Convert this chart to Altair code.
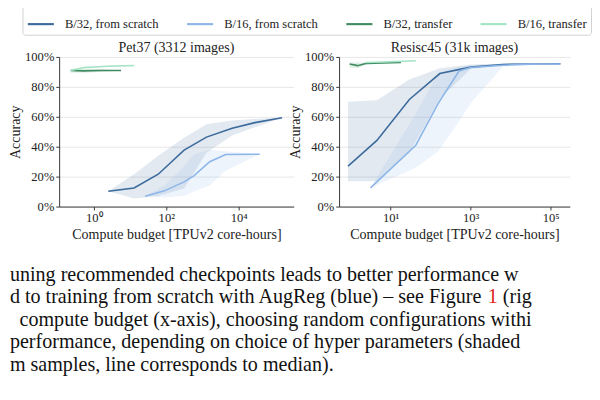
import altair as alt
import pandas as pd

SERIF = "Liberation Serif"
SERIES = ["B/32, from scratch", "B/16, from scratch", "B/32, transfer", "B/16, transfer"]
COLORS = ["#3b6a9c", "#8db6e8", "#3f8c60", "#a3e4c5"]
TITLES = ["Pet37 (3312 images)", "Resisc45 (31k images)"]

# ---- Pet37 (3312 images) ----
pet_b32s_x = [2.5, 12.9, 60, 310, 1290, 6600, 28000, 158000]
pet_b32s_med = [10.2, 12.4, 21.6, 37.7, 46.4, 52.3, 56.1, 59.3]
pet_b32s_lo = [10.2, 5.4, 7.0, 12.0, 36.0, 47.5, 53.0, 59.3]
pet_b32s_hi = [10.2, 21.6, 34.0, 46.0, 55.0, 57.5, 58.5, 59.3]

pet_b16s_x = [26, 89, 310, 575, 1585, 4365, 38000]
pet_b16s_med = [6.9, 10.5, 16.5, 20.5, 30.0, 34.8, 35.0]
pet_b16s_lo = [6.9, 6.0, 7.0, 10.0, 14.0, 24.0, 35.0]
pet_b16s_hi = [6.9, 14.0, 27.0, 35.0, 38.0, 37.0, 35.0]

pet_b32t_x = [0.229, 0.5, 1.585, 5.62]
pet_b32t_med = [91.0, 90.7, 91.0, 91.0]
pet_b32t_lo = [89.5, 89.5, 90.0, 91.0]
pet_b32t_hi = [92.0, 92.3, 92.0, 91.0]

pet_b16t_x = [0.229, 0.537, 2.51, 12.9]
pet_b16t_med = [91.0, 93.0, 93.8, 94.3]
pet_b16t_lo = [90.5, 92.5, 93.5, 94.3]
pet_b16t_hi = [91.5, 93.5, 94.2, 94.3]

# ---- Resisc45 (31k images) ----
res_b32s_x = [0.87, 4.57, 29.5, 170, 1000, 6310, 33100, 174000]
res_b32s_med = [27.0, 44.2, 71.6, 88.9, 93.2, 95.0, 95.3, 95.4]
res_b32s_lo = [17.0, 17.0, 36.0, 72.0, 92.0, 94.5, 95.2, 95.4]
res_b32s_hi = [70.0, 71.0, 85.0, 92.5, 95.0, 95.5, 95.5, 95.4]

res_b16s_x = [3.16, 42.7, 155, 513, 1000, 6310, 33100, 174000]
res_b16s_med = [12.5, 41.0, 69.0, 90.6, 93.0, 94.5, 95.2, 95.3]
res_b16s_lo = [12.5, 26.0, 37.0, 57.0, 69.0, 93.5, 95.0, 95.3]
res_b16s_hi = [12.5, 62.0, 89.5, 93.5, 94.5, 95.5, 95.5, 95.3]

res_b32t_x = [0.955, 1.51, 2.4, 6.31, 18.2]
res_b32t_med = [95.3, 94.2, 95.6, 96.0, 96.3]
res_b32t_lo = [93.0, 92.5, 94.8, 95.6, 96.3]
res_b32t_hi = [96.3, 96.3, 96.3, 96.3, 96.3]

res_b16t_x = [2.4, 10.0, 42.7]
res_b16t_med = [96.3, 96.8, 97.4]
res_b16t_lo = [96.3, 96.8, 97.4]
res_b16t_hi = [96.3, 96.8, 97.4]

CAPTION = [
    "uning recommended checkpoints leads to better performance w",
    "d to training from scratch with AugReg (blue) \u2013 see Figure",
    "1",
    "(rig",
    "compute budget (x-axis), choosing random configurations withi",
    "performance, depending on choice of hyper parameters (shaded",
    "m samples, line corresponds to median).",
]


def rows(panel, series, xs, med, lo, hi):
    return [dict(panel=panel, series=series, x=a, med=b, lo=c, hi=d)
            for a, b, c, d in zip(xs, med, lo, hi)]


recs = []
recs += rows("pet", SERIES[0], pet_b32s_x, pet_b32s_med, pet_b32s_lo, pet_b32s_hi)
recs += rows("pet", SERIES[1], pet_b16s_x, pet_b16s_med, pet_b16s_lo, pet_b16s_hi)
recs += rows("pet", SERIES[2], pet_b32t_x, pet_b32t_med, pet_b32t_lo, pet_b32t_hi)
recs += rows("pet", SERIES[3], pet_b16t_x, pet_b16t_med, pet_b16t_lo, pet_b16t_hi)
recs += rows("res", SERIES[0], res_b32s_x, res_b32s_med, res_b32s_lo, res_b32s_hi)
recs += rows("res", SERIES[1], res_b16s_x, res_b16s_med, res_b16s_lo, res_b16s_hi)
recs += rows("res", SERIES[2], res_b32t_x, res_b32t_med, res_b32t_lo, res_b32t_hi)
recs += rows("res", SERIES[3], res_b16t_x, res_b16t_med, res_b16t_lo, res_b16t_hi)
df = pd.DataFrame(recs)

SUP = ("'10' + (datum.value < 5 ? '\u2070' : datum.value < 50 ? '\u00b9' : "
       "datum.value < 500 ? '\u00b2' : datum.value < 5000 ? '\u00b3' : "
       "datum.value < 50000 ? '\u2074' : '\u2075')")

legend = alt.Legend(
    title=None, orient="none", legendX=-38, legendY=-53, direction="horizontal",
    columns=4, symbolType="stroke", symbolSize=729,
    symbolStrokeWidth=2.2, labelFont=SERIF, labelFontSize=13, labelColor="#222",
    labelOffset=10, columnPadding=24, padding=4, strokeColor="#d0d0d0",
    cornerRadius=3, fillColor="white", labelLimit=200,
)

W_L, W_R, H = 243, 239, 155


def text_layer(text, x, y, size, color="#111", limit=None, align="left"):
    props = dict(align=align, baseline="alphabetic", fontSize=size, font=SERIF, color=color)
    if limit is not None:
        props.update(limit=limit, ellipsis="\u200b")
    return alt.Chart(pd.DataFrame({"t": [text]})).mark_text(**props).encode(
        x=alt.value(x), y=alt.value(y), text="t:N"
    )


def panel(name, title, domain, ticks, width, with_legend):
    d = df[df.panel == name]
    base = alt.Chart(d)
    xenc = alt.X(
        "x:Q",
        scale=alt.Scale(type="log", domain=domain, nice=False),
        axis=alt.Axis(values=ticks, labelExpr=SUP, title="Compute budget [TPUv2 core-hours]",
                      grid=False, labelOverlap=False),
    )
    yaxis = alt.Axis(values=[0, 20, 40, 60, 80, 100], labelExpr="datum.value + '%'",
                     title="Accuracy", grid=True, titlePadding=2, labelOverlap=False)
    yscale = alt.Scale(domain=[0, 100], nice=False)
    bands = [
        base.transform_filter(alt.datum.series == s).mark_area(
            color=c, fillOpacity=0.15, strokeWidth=0
        ).encode(x=xenc, y=alt.Y("lo:Q", scale=yscale, axis=yaxis), y2="hi:Q")
        for s, c in zip(SERIES, COLORS)
    ]
    line = base.mark_line(strokeWidth=1.6).encode(
        x=xenc,
        y=alt.Y("med:Q", scale=yscale, axis=yaxis),
        color=alt.Color("series:N", scale=alt.Scale(domain=SERIES, range=COLORS),
                        legend=legend if with_legend else None),
    )
    ttl = text_layer(title, width / 2, -5, 14.5, color="#222", align="center")
    return alt.layer(*bands, line, ttl).properties(width=width, height=H)


FS = 20.8
X0 = -51
left = panel("pet", TITLES[0], [0.11, 331000], [1, 100, 10000], W_L, True)
caps = [
    text_layer(CAPTION[0], X0, 232, FS),
    text_layer(CAPTION[1], X0, 255.3, FS),
    text_layer(CAPTION[2], X0 + 23.8 * FS, 255.3, FS, color="#e0201b"),
    text_layer(CAPTION[3], X0 + 24.55 * FS, 255.3, FS),
    text_layer(CAPTION[4], -41, 278.6, FS),
    text_layer(CAPTION[5], X0, 301.9, FS),
    text_layer(CAPTION[6], X0, 325.2, FS),
]
left = alt.layer(left, *caps)
right = panel("res", TITLES[1], [0.52, 298000], [10, 1000, 100000], W_R, False)

chart = alt.hconcat(left, right, spacing=47, bounds="flush").resolve_scale(
    x="independent", color="independent"
).configure(
    padding={"top": -10, "left": 0, "right": 0, "bottom": 0}, background="white",
).configure_view(strokeWidth=0).configure_axis(
    labelFont=SERIF, titleFont=SERIF, labelFontSize=13, titleFontSize=14.5,
    labelColor="#222", titleColor="#222", titleFontWeight="normal",
    domainColor="#333", tickColor="#333", tickSize=3.5, labelPadding=2,
    gridColor="#e6e6e6", gridWidth=1,
)

chart.save("out.html", embed_options={"renderer": "svg", "actions": False})
